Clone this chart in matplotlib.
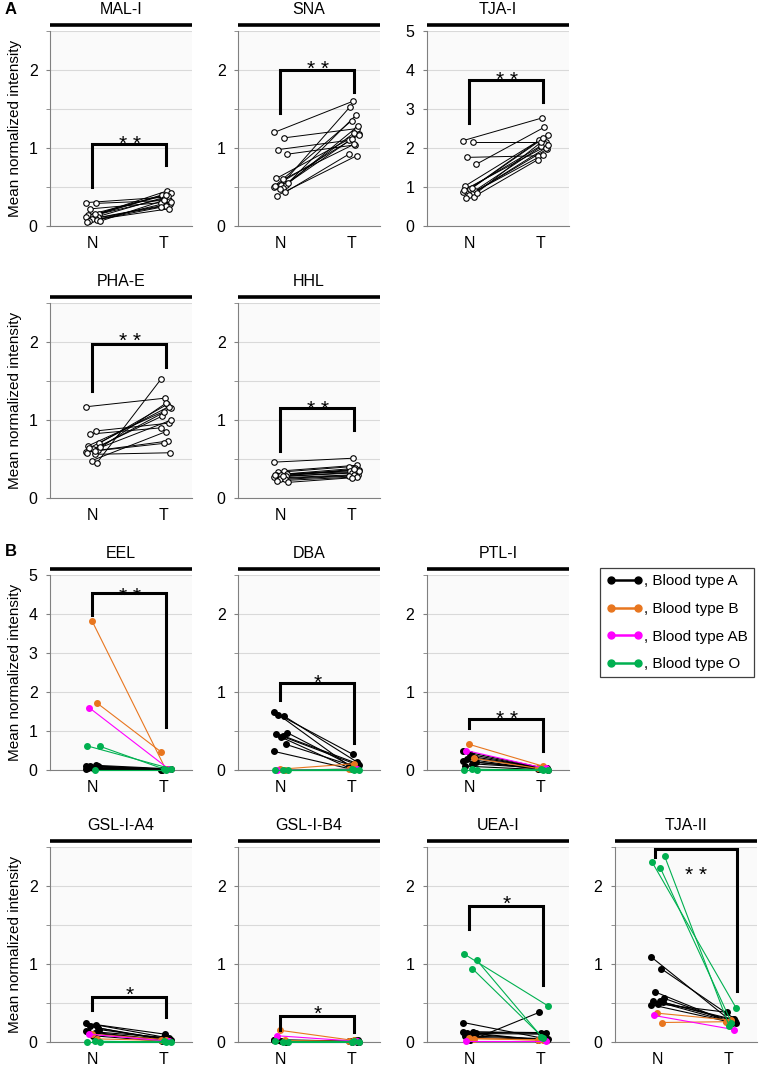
import matplotlib.pyplot as plt
from matplotlib.lines import Line2D

plt.rcParams['font.family'] = ['Liberation Sans', 'DejaVu Sans']

GROUPS = ['N', 'T']

# ---- panel A (15 paired samples, N -> T) ----
MAL_N = [0.30, 0.29, 0.22, 0.16, 0.14, 0.13, 0.12, 0.11, 0.10, 0.09, 0.08, 0.07, 0.06, 0.05, 0.15]
MAL_T = [0.37, 0.33, 0.30, 0.45, 0.42, 0.40, 0.38, 0.35, 0.28, 0.26, 0.24, 0.22, 0.33, 0.31, 0.40]

SNA_N = [1.20, 1.13, 0.98, 0.92, 0.61, 0.53, 0.52, 0.50, 0.49, 0.48, 0.43, 0.39, 0.55, 0.51, 0.60]
SNA_T = [1.60, 1.25, 1.10, 1.04, 1.18, 1.53, 1.42, 1.35, 1.28, 1.19, 0.92, 0.90, 1.12, 1.17, 1.05]

TJA1_N = [2.19, 2.15, 1.76, 1.58, 1.03, 0.95, 0.90, 0.87, 0.83, 0.80, 0.75, 0.73, 0.85, 0.92, 0.98]
TJA1_T = [2.77, 2.15, 1.80, 2.53, 2.33, 2.20, 2.10, 2.05, 1.97, 1.82, 1.70, 2.00, 2.15, 2.08, 2.25]

PHA_N = [1.17, 0.86, 0.82, 0.70, 0.67, 0.63, 0.61, 0.59, 0.56, 0.48, 0.45, 0.64, 0.66, 0.58, 0.60]
PHA_T = [1.28, 0.96, 0.90, 1.20, 1.15, 1.05, 0.73, 0.70, 0.58, 0.85, 1.52, 1.17, 1.10, 1.00, 1.22]

HHL_N = [0.46, 0.35, 0.33, 0.31, 0.30, 0.29, 0.28, 0.27, 0.26, 0.25, 0.24, 0.22, 0.20, 0.30, 0.28]
HHL_T = [0.51, 0.42, 0.40, 0.38, 0.36, 0.35, 0.33, 0.32, 0.30, 0.29, 0.28, 0.27, 0.26, 0.34, 0.37]

# ---- panel B (blood type of each patient) ----
BLOOD = ['A'] * 9 + ['B'] * 2 + ['AB'] + ['O'] * 3
BLOOD_TYPES = ['A', 'B', 'AB', 'O']
BLOOD_COLORS = {'A': 'black', 'B': '#e8761f', 'AB': '#ff00ff', 'O': '#00b050'}

EEL_N = [0.02, 0.12, 0.10, 0.08, 0.06, 0.05, 0.09, 0.11, 0.04, 3.83, 1.72, 1.60, 0.61, 0.62, 0.01]
EEL_T = [0.02, 0.03, 0.01, 0.02, 0.03, 0.01, 0.02, 0.02, 0.03, 0.02, 0.47, 0.03, 0.02, 0.03, 0.01]

DBA_N = [0.74, 0.69, 0.71, 0.48, 0.46, 0.42, 0.33, 0.24, 0.44, 0.01, 0.00, 0.00, 0.00, 0.00, 0.00]
DBA_T = [0.20, 0.10, 0.05, 0.03, 0.06, 0.02, 0.04, 0.01, 0.08, 0.08, 0.01, 0.01, 0.01, 0.00, 0.00]

PTL_N = [0.24, 0.17, 0.14, 0.10, 0.05, 0.20, 0.15, 0.12, 0.08, 0.33, 0.15, 0.25, 0.00, 0.00, 0.01]
PTL_T = [0.03, 0.02, 0.01, 0.02, 0.00, 0.03, 0.02, 0.01, 0.02, 0.05, 0.02, 0.02, 0.01, 0.00, 0.00]

GSLA_N = [0.24, 0.22, 0.20, 0.16, 0.13, 0.08, 0.18, 0.14, 0.11, 0.10, 0.04, 0.10, 0.00, 0.00, 0.01]
GSLA_T = [0.10, 0.05, 0.03, 0.04, 0.02, 0.01, 0.03, 0.06, 0.02, 0.03, 0.02, 0.01, 0.01, 0.00, 0.00]

GSLB_N = [0.02, 0.01, 0.03, 0.00, 0.02, 0.01, 0.00, 0.02, 0.01, 0.15, 0.02, 0.08, 0.00, 0.01, 0.00]
GSLB_T = [0.01, 0.00, 0.01, 0.02, 0.00, 0.01, 0.01, 0.00, 0.02, 0.02, 0.01, 0.01, 0.00, 0.00, 0.01]

UEA_N = [0.25, 0.13, 0.12, 0.11, 0.08, 0.02, 0.10, 0.13, 0.06, 0.05, 0.04, 0.01, 1.05, 1.13, 0.94]
UEA_T = [0.05, 0.12, 0.03, 0.10, 0.04, 0.38, 0.02, 0.11, 0.03, 0.02, 0.03, 0.01, 0.07, 0.46, 0.05]

TJA2_N = [1.09, 0.94, 0.64, 0.56, 0.53, 0.49, 0.51, 0.48, 0.52, 0.37, 0.25, 0.34, 2.38, 2.31, 2.23]
TJA2_T = [0.28, 0.30, 0.27, 0.25, 0.24, 0.38, 0.29, 0.26, 0.27, 0.28, 0.26, 0.16, 0.20, 0.43, 0.25]

# significance brackets: (N arm bottom, top, T arm bottom, stars, star y)
BRACKETS = {
    'MAL-I': (0.50, 1.05, 0.78, '* *', 1.14),
    'SNA': (1.45, 2.00, 1.72, '* *', 2.10),
    'TJA-I': (2.64, 3.74, 3.18, '* *', 3.90),
    'PHA-E': (1.37, 1.97, 1.68, '* *', 2.09),
    'HHL': (0.60, 1.15, 0.87, '* *', 1.22),
    'EEL': (3.97, 4.54, 1.10, '* *', 4.62),
    'DBA': (0.90, 1.12, 0.35, '*', 1.20),
    'PTL-I': (0.54, 0.65, 0.24, '* *', 0.74),
    'GSL-I-A4': (0.41, 0.58, 0.32, '*', 0.69),
    'GSL-I-B4': (0.15, 0.33, 0.13, '*', 0.45),
    'UEA-I': (1.45, 1.74, 0.73, '*', 1.85),
    'TJA-II': (2.37, 2.47, 0.65, '* *', 2.22),
}

# small horizontal spread of the points around N and T
JIT_N = [-0.09, 0.05, -0.03, 0.09, -0.06, 0.01, 0.07, -0.10, 0.03, -0.01, 0.06, -0.05, 0.10, -0.08, 0.04]
JIT_T = [0.02, 0.08, -0.03, 0.05, 0.10, -0.02, 0.06, 0.00, 0.09, 0.03, -0.04, 0.07, 0.01, 0.11, 0.04]

W, H = 767, 1065
fig = plt.figure(figsize=(W / 100, H / 100), dpi=100)

COL_X = [50, 238, 427, 615]
ROW_Y = [31, 303, 575, 847]
AX_W, AX_H = 142, 195


def make_axes(row, col):
    x, y = COL_X[col], ROW_Y[row]
    return fig.add_axes([x / W, 1 - (y + AX_H) / H, AX_W / W, AX_H / H])


def setup(ax, title, ymax, ylabel=False):
    ax.set_facecolor('#fafafa')
    ax.set_xlim(-0.6, 1.4)
    ax.set_ylim(0, ymax)
    ax.set_xticks([0, 1])
    ax.set_xticklabels(GROUPS, fontsize=11.5)
    ax.tick_params(axis='x', length=0, pad=7)
    ax.set_yticks(range(0, int(ymax) + 1))
    if ymax < 3:
        ax.set_yticks([0.5, 1.5, 2.5], minor=True)
    ax.tick_params(axis='y', which='both', length=3, color='#808080', pad=6, labelsize=11.5)
    ax.grid(True, which='both', axis='y', color='#d9d9d9', lw=0.8)
    ax.set_axisbelow(True)
    for s in ['top', 'right']:
        ax.spines[s].set_visible(False)
    for s in ['left', 'bottom']:
        ax.spines[s].set_color('#808080')
        ax.spines[s].set_linewidth(0.8)
    ax.plot([0, 1], [1.03, 1.03], transform=ax.transAxes, color='black', lw=2.6,
            clip_on=False, solid_capstyle='butt')
    ax.set_title(title, fontsize=11.5, pad=12)
    if ylabel:
        ax.set_ylabel('Mean normalized intensity', fontsize=11)
        ax.yaxis.set_label_coords(-0.2, 0.5)

    yl, top, yr, stars, ys = BRACKETS[title]
    x0, x1 = (-0.04, 1.12) if title == 'TJA-II' else (-0.01, 1.03)
    ax.plot([x0, x0, x1, x1], [yl, top, top, yr], color='black', lw=2.2,
            solid_joinstyle='miter', clip_on=False, zorder=5)
    xs = 0.54 if title == 'TJA-II' else 0.52
    ax.annotate(stars, xy=(xs, ys), xytext=(0, -9), textcoords='offset points',
                ha='center', va='baseline', fontsize=15)


def pairs(ax, n_vals, t_vals, blood=None):
    for i, (n, t) in enumerate(zip(n_vals, t_vals)):
        xs = [0 + JIT_N[i], 1 + JIT_T[i]]
        if blood is None:
            ax.plot(xs, [n, t], color='black', lw=0.7, zorder=3)
            ax.plot(xs, [n, t], ls='none', marker='o', ms=4, mfc='white',
                    mec='black', mew=0.8, zorder=4, clip_on=False)
        else:
            c = BLOOD_COLORS[blood[i]]
            ax.plot(xs, [n, t], color=c, lw=0.8, marker='o', ms=4, zorder=3, clip_on=False)


panels_a = [
    (0, 0, 'MAL-I', MAL_N, MAL_T, 2.5),
    (0, 1, 'SNA', SNA_N, SNA_T, 2.5),
    (0, 2, 'TJA-I', TJA1_N, TJA1_T, 5),
    (1, 0, 'PHA-E', PHA_N, PHA_T, 2.5),
    (1, 1, 'HHL', HHL_N, HHL_T, 2.5),
]
for r, c, name, nv, tv, ymax in panels_a:
    ax = make_axes(r, c)
    setup(ax, name, ymax, ylabel=(c == 0))
    pairs(ax, nv, tv)

panels_b = [
    (2, 0, 'EEL', EEL_N, EEL_T, 5),
    (2, 1, 'DBA', DBA_N, DBA_T, 2.5),
    (2, 2, 'PTL-I', PTL_N, PTL_T, 2.5),
    (3, 0, 'GSL-I-A4', GSLA_N, GSLA_T, 2.5),
    (3, 1, 'GSL-I-B4', GSLB_N, GSLB_T, 2.5),
    (3, 2, 'UEA-I', UEA_N, UEA_T, 2.5),
    (3, 3, 'TJA-II', TJA2_N, TJA2_T, 2.5),
]
for r, c, name, nv, tv, ymax in panels_b:
    ax = make_axes(r, c)
    setup(ax, name, ymax, ylabel=(c == 0))
    pairs(ax, nv, tv, BLOOD)

fig.text(5 / W, 1 - 10 / H, 'A', fontsize=12, fontweight='bold', va='center')
fig.text(5 / W, 1 - 551 / H, 'B', fontsize=12, fontweight='bold', va='center')

handles = [Line2D([0], [0], color=BLOOD_COLORS[b], lw=1.8, marker='o', ms=5) for b in BLOOD_TYPES]
labels = [', Blood type ' + b for b in BLOOD_TYPES]
leg = fig.legend(handles, labels, loc='upper left', bbox_to_anchor=(600 / W, 1 - 568 / H),
                 fontsize=11, numpoints=2, handlelength=2.4, handletextpad=0.1,
                 labelspacing=0.9, borderpad=0.4, borderaxespad=0, fancybox=False,
                 edgecolor='#404040', framealpha=1)
leg.get_frame().set_linewidth(0.9)

fig.savefig('out.png', dpi=100)
